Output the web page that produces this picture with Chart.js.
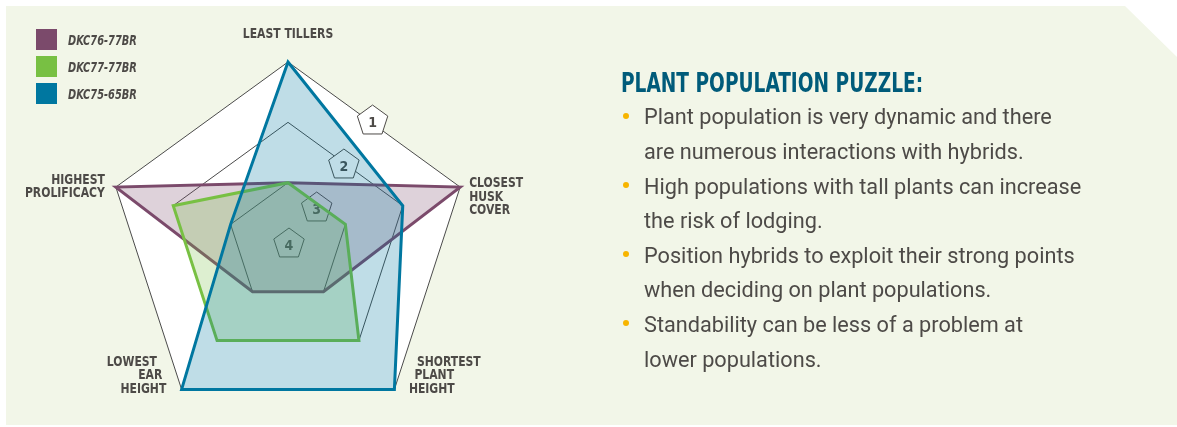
<!DOCTYPE html>
<html>
<head>
<meta charset="utf-8">
<script src="https://cdn.jsdelivr.net/npm/chart.js@4.4.1/dist/chart.umd.min.js"></script>
<style>
  html, body { margin:0; padding:0; background:#ffffff; width:1177px; height:427px; overflow:hidden; }
  #panel { position:absolute; left:6px; top:6px; width:1171px; height:419px; background:#F2F6E8;
           clip-path: polygon(0 0, 1119px 0, 1171px 51px, 1171px 419px, 0 419px); }
  #chart { position:absolute; left:0; top:0; }
  #legend { position:absolute; left:36px; top:29px; }
  .item { display:flex; align-items:center; height:21px; margin-bottom:6px; }
  .sw { width:21px; height:21px; margin-right:11px; flex:none; }
  .lt { display:inline-block; font: italic bold 13.5px 'DejaVu Sans Condensed', 'DejaVu Sans', sans-serif; color:#4D4A47;
        transform: scaleX(0.81); transform-origin: 0 50%; white-space:nowrap; }
  #title { position:absolute; left:621px; top:69.5px; font: bold 26px 'DejaVu Sans Condensed', 'DejaVu Sans', sans-serif;
           line-height:26px; color:#005B7A; white-space:nowrap; transform: scaleX(0.794); transform-origin: 0 50%; }
  #bullets { position:absolute; left:644px; top:100.4px; margin:0; padding:0; list-style:none;
             font: 21.7px Roboto, 'Liberation Sans', sans-serif; line-height:34.6px; color:#4D4A47; white-space:nowrap; }
  #bullets li { position:relative; }
  #bullets li::before { content:''; position:absolute; left:-21px; top:12.2px; width:6px; height:6px; border-radius:50%; background:#F7B500; }
</style>
</head>
<body>
<div id="panel"></div>
<canvas id="chart" width="1177" height="427"></canvas>
<div id="legend"></div>
<div id="title">PLANT POPULATION PUZZLE:</div>
<ul id="bullets">
  <li>Plant population is very dynamic and there<br>are numerous interactions with hybrids.</li>
  <li>High populations with tall plants can increase<br>the risk of lodging.</li>
  <li>Position hybrids to exploit their strong points<br>when deciding on plant populations.</li>
  <li>Standability can be less of a problem at<br>lower populations.</li>
</ul>
<script>
// ---- data (ranks: 1 = outer ring, 4 = centre) ----
const categories = [
  ['LEAST TILLERS'],
  ['CLOSEST', 'HUSK', 'COVER'],
  ['SHORTEST', 'PLANT', 'HEIGHT'],
  ['LOWEST', 'EAR', 'HEIGHT'],
  ['HIGHEST', 'PROLIFICACY']
];
const seriesNames = ['DKC76-77BR', 'DKC77-77BR', 'DKC75-65BR'];
const dkc76_77 = [3, 1, 3, 3, 1];
const dkc77_77 = [3, 3, 2, 2, 2];
const dkc75_65 = [1, 2, 1, 1, 3];
const rankTicks = [1, 2, 3, 4];

// ---- styles ----
const lineColors = ['#7B4A6B', '#78C043', '#0077A0'];
const fillColors = ['rgba(123,74,107,0.25)', 'rgba(120,192,67,0.25)', 'rgba(0,119,160,0.25)'];
const textColor = '#4D4A47';
const labelFont = "bold 14.5px 'DejaVu Sans Condensed', 'DejaVu Sans', sans-serif";
const labelScaleX = 0.83;
const labelLayout = [
  { align: 'center', dx: [0],                   dy: -24 },
  { align: 'left',   dx: [9, 9, 9],             dy: 0.3 },
  { align: 'left',   dx: [22.5, 20, 14.5],      dy: -23.7 },
  { align: 'right',  dx: [-24.6, -19.3, -15.3], dy: -23.7 },
  { align: 'right',  dx: [-11, -11],            dy: -3.1 }
];
const lineStep = 13.5;
const badgeOffsets = [[-1.5, -3.5], [-1.5, 1], [0, 4.5], [1, 1]];

// legend (HTML)
const legendEl = document.getElementById('legend');
seriesNames.forEach((n, i) => {
  const it = document.createElement('div'); it.className = 'item';
  const sw = document.createElement('div'); sw.className = 'sw'; sw.style.background = lineColors[i];
  const t = document.createElement('span'); t.className = 'lt'; t.textContent = n;
  it.appendChild(sw); it.appendChild(t); legendEl.appendChild(it);
});

function ringPath(ctx, s, dist) {
  ctx.beginPath();
  for (let i = 0; i < categories.length; i++) {
    const p = s.getPointPosition(i, dist);
    if (i === 0) ctx.moveTo(p.x, p.y); else ctx.lineTo(p.x, p.y);
  }
  ctx.closePath();
}

const bgPlugin = {
  id: 'bgPlugin',
  beforeDraw(chart) {
    const s = chart.scales.r, ctx = chart.ctx;
    ctx.save();
    ringPath(ctx, s, s.drawingArea);
    ctx.fillStyle = '#ffffff';
    ctx.fill();
    ctx.restore();
  }
};

const badgePlugin = {
  id: 'badgePlugin',
  beforeDatasetsDraw(chart) {
    const s = chart.scales.r, ctx = chart.ctx;
    ctx.save();
    rankTicks.forEach((v, idx) => {
      const d = s.getDistanceFromCenterForValue(v);
      const a = s.getPointPosition(0, d), b = s.getPointPosition(1, d);
      const cx = (a.x + b.x) / 2 + badgeOffsets[idx][0], cy = (a.y + b.y) / 2 + badgeOffsets[idx][1];
      const R = 16;
      ctx.beginPath();
      for (let k = 0; k < 5; k++) {
        const ang = -Math.PI / 2 + k * 2 * Math.PI / 5;
        const x = cx + R * Math.cos(ang), y = cy + R * Math.sin(ang);
        if (k === 0) ctx.moveTo(x, y); else ctx.lineTo(x, y);
      }
      ctx.closePath();
      ctx.fillStyle = '#ffffff';
      ctx.fill();
      ctx.lineWidth = 1;
      ctx.strokeStyle = '#4D4A47';
      ctx.stroke();
      ctx.fillStyle = textColor;
      ctx.font = "bold 14px 'DejaVu Sans Condensed', 'DejaVu Sans', sans-serif";
      ctx.textAlign = 'center';
      ctx.textBaseline = 'alphabetic';
      ctx.fillText(String(v), cx, cy + 6);
    });
    ctx.restore();
  }
};

const labelPlugin = {
  id: 'labelPlugin',
  afterDatasetsDraw(chart) {
    const s = chart.scales.r, ctx = chart.ctx;
    ctx.save();
    ctx.font = labelFont;
    ctx.fillStyle = textColor;
    ctx.textBaseline = 'alphabetic';
    chart.data.labels.forEach((lines, i) => {
      const p = s.getPointPosition(i, s.drawingArea);
      const L = labelLayout[i];
      ctx.textAlign = L.align;
      lines.forEach((txt, j) => {
        ctx.save();
        ctx.translate(p.x + L.dx[j], p.y + L.dy + j * lineStep);
        ctx.scale(labelScaleX, 1);
        ctx.fillText(txt, 0, 0);
        ctx.restore();
      });
    });
    ctx.restore();
  }
};

const seriesValues = [dkc76_77, dkc77_77, dkc75_65];
const drawOrder = [3, 2, 1];

new Chart(document.getElementById('chart'), {
  type: 'radar',
  data: {
    labels: categories,
    datasets: seriesNames.map((n, i) => ({
      label: n,
      data: seriesValues[i],
      borderColor: lineColors[i],
      backgroundColor: fillColors[i],
      borderWidth: 3,
      pointRadius: 0,
      pointHoverRadius: 0,
      fill: { value: 4 },
      order: drawOrder[i]
    }))
  },
  options: {
    responsive: false,
    animation: false,
    devicePixelRatio: 1,
    layout: { padding: { left: 107, right: 708, top: 62, bottom: 3 } },
    elements: { line: { tension: 0, borderJoinStyle: 'miter' } },
    plugins: { legend: { display: false }, tooltip: { enabled: false } },
    scales: {
      r: {
        min: 1, max: 4, reverse: true,
        ticks: { display: false, stepSize: 1 },
        pointLabels: { display: false },
        angleLines: { display: false },
        grid: { color: '#4A4A4A', lineWidth: 1 }
      }
    }
  },
  plugins: [bgPlugin, badgePlugin, labelPlugin]
});
</script>
</body>
</html>
